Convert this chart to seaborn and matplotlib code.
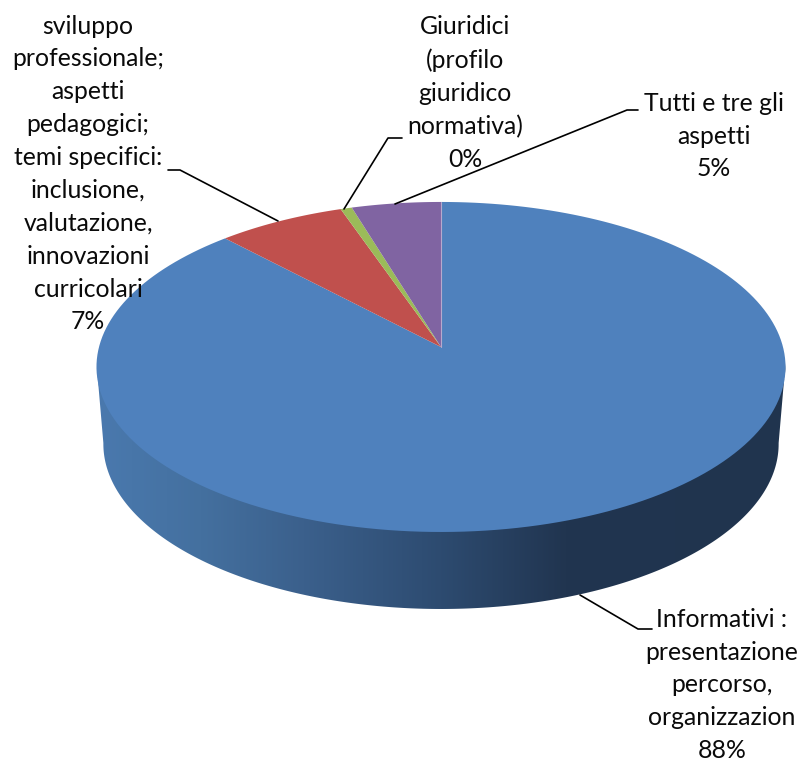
import numpy as np
import matplotlib
matplotlib.use('Agg')
import matplotlib.pyplot as plt
import seaborn as sns
from matplotlib.colors import LinearSegmentedColormap
from matplotlib.patches import Polygon

# slices, clockwise from 12 o'clock
categories = ['Informativi', 'Sviluppo professionale', 'Giuridici', 'Tutti e tre gli aspetti']
values = [87.95, 6.75, 0.6, 4.7]
slice_colors = ['#4f81bd', '#c0504d', '#9bbb59', '#8064a2']

labels = [
    'Informativi :\npresentazione\npercorso,\norganizzazion\n88%',
    'sviluppo\nprofessionale;\naspetti\npedagogici;\ntemi specifici:\ninclusione,\nvalutazione,\ninnovazioni\ncurricolari\n7%',
    'Giuridici\n(profilo\ngiuridico\nnormativa)\n0%',
    'Tutti e tre gli\naspetti\n5%',
]
label_pos = [(722, 685), (88, 174), (465, 93), (714, 136)]
leaders = [
    [(580, 595), (638, 629), (652, 629)],
    [(278, 221), (180, 170), (168, 170)],
    [(344, 209), (388, 138), (402, 138)],
    [(395, 204), (627, 110), (638, 110)],
]
wall_stops = [(0.0, '#4a79ae'), (0.15, '#44709f'), (0.3, '#3b608c'), (0.5, '#2d4b70'),
              (0.68, '#213550'), (1.0, '#20344e')]

sns.set_theme(style='white')
plt.rcParams['font.family'] = ['Lato', 'DejaVu Sans']

W, H = 803, 762
fig = plt.figure(figsize=(W / 100, H / 100), dpi=100)
ax = fig.add_axes([0, 0, 1, 1])

cx, cy = 441, 347   # where the slices meet
a, b, k = 342, 162.6, 0.121


def tilt(pts):
    # unit circle of the pie -> tilted disc with perspective
    x, y = pts[:, 0], pts[:, 1]
    d = 1 + k * y
    return np.column_stack([cx + a * x / d, cy - b * y / d])


wedges, _ = ax.pie(values, startangle=90, counterclock=False, colors=slice_colors)
for w, col in zip(wedges, slice_colors):
    ang = np.radians(np.linspace(w.theta1, w.theta2, 200))
    rim = np.column_stack([np.cos(ang), np.sin(ang)])
    poly = tilt(np.vstack([[[0.0, 0.0]], rim]))
    w.remove()
    ax.add_patch(Polygon(poly, closed=True, fc=col, ec='none', zorder=3))

# side wall
t = np.linspace(0, np.pi, 300)
front = tilt(np.column_stack([np.cos(t), -np.sin(t)]))
# keep only the part of the rim below the widest point
front = front[front[:, 1] >= 366]
back = np.column_stack([441 + (front[:, 0] - 441) * 0.98, front[:, 1] + 77])[::-1]
top = front - np.array([0, 3])   # tuck under the disc so no white seam shows
wall = Polygon(np.vstack([top, back]), closed=True, fc='none', ec='none', transform=ax.transData)
ax.add_patch(wall)
cmap = LinearSegmentedColormap.from_list('wall', wall_stops)
im = ax.imshow(np.linspace(0, 1, 256).reshape(1, -1), extent=[97, 786, 620, 360], cmap=cmap,
               aspect='auto', zorder=2)
im.set_clip_path(wall)

# thin light seam at 12 o'clock
seam = tilt(np.array([[0.0, 0.0], [0.0, 1.0]]))
ax.plot(seam[:, 0], seam[:, 1], color='#b7a9cc', lw=0.8, zorder=4)

for line in leaders:
    pts = np.array(line)
    ax.plot(pts[:, 0], pts[:, 1], color='black', lw=1.2, zorder=5, solid_joinstyle='round')

for text, (x, y) in zip(labels, label_pos):
    ax.text(x, y, text, ha='center', va='center', fontsize=17.8, linespacing=1.52, color='#0a0a0a', zorder=6)

ax.set_aspect('auto')
ax.set_xlim(0, W)
ax.set_ylim(H, 0)
ax.axis('off')

fig.savefig('out.png', dpi=100, facecolor='white')
